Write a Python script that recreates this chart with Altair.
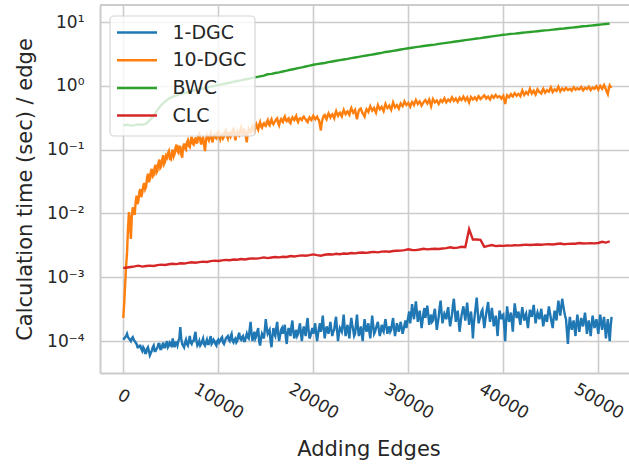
import altair as alt
import pandas as pd

SERIES = ["1-DGC", "10-DGC", "BWC", "CLC"]
COLORS = ["#1f77b4", "#ff7f0e", "#2ca02c", "#d62728"]

# sampling interval (edges) of the read-off points
STEP_DGC = 100
STEP_OTHER = 400

# 1-DGC, in units of 1e-4 s/edge (one row of ten = 1000 edges)
DGC1_E4 = [
    1.05, 1.1, 1.15, 1.2, 1.3, 1.15, 1.1, 1.05, 1.0, 1.1,
    1.15, 1.05, 1.0, 0.95, 0.9, 0.8, 0.8, 0.85, 0.85, 0.75,
    0.7, 0.8, 0.75, 0.65, 0.65, 0.75, 0.8, 0.7, 0.6, 0.65,
    0.7, 0.8, 0.85, 0.7, 0.7, 0.75, 0.8, 0.9, 0.9, 0.75,
    0.75, 0.85, 0.95, 0.8, 0.8, 0.9, 1.0, 0.8, 0.85, 0.95,
    0.9, 0.8, 1.1, 0.9, 0.8, 0.95, 0.95, 0.85, 1.0, 1.1,
    1.65, 1.1, 0.9, 0.85, 0.8, 0.95, 1.05, 0.9, 0.85, 1.0,
    1.2, 0.95, 0.9, 1.0, 1.0, 1.2, 1.4, 1.0, 0.85, 0.9,
    1.0, 0.85, 0.9, 1.0, 1.1, 0.9, 0.85, 0.95, 1.05, 0.9,
    0.9, 1.05, 1.2, 0.9, 0.95, 1.05, 1.0, 0.9, 0.85, 1.0,
    1.05, 0.95, 1.0, 1.1, 1.15, 0.95, 0.9, 1.0, 1.1, 1.15,
    1.2, 1.05, 1.0, 1.2, 1.3, 1.0, 0.95, 1.05, 1.1, 0.95,
    1.0, 1.2, 1.35, 1.1, 1.05, 1.15, 1.2, 1.0, 1.0, 1.15,
    1.3, 1.15, 1.1, 1.5, 2.0, 1.3, 1.0, 1.2, 1.4, 1.1,
    1.2, 1.4, 1.6, 1.0, 0.85, 1.1, 1.3, 1.2, 1.1, 1.5,
    2.2, 1.6, 1.3, 1.4, 1.5, 1.0, 0.8, 1.2, 1.6, 1.3,
    1.2, 1.6, 2.0, 1.3, 1.0, 1.2, 1.5, 1.6, 1.3, 1.5,
    1.8, 1.2, 0.9, 1.3, 1.6, 1.4, 1.2, 1.7, 2.1, 1.4,
    1.1, 1.3, 1.5, 1.2, 1.3, 1.6, 1.9, 1.3, 1.0, 1.4,
    1.7, 1.4, 1.2, 1.8, 2.3, 1.5, 1.1, 1.2, 1.4, 1.6,
    1.3, 1.5, 1.9, 1.3, 1.0, 1.3, 1.6, 1.9, 1.4, 1.8,
    2.5, 1.6, 1.1, 1.4, 1.7, 1.5, 1.3, 1.6, 2.0, 1.5,
    1.2, 1.4, 1.5, 2.0, 2.4, 1.5, 1.0, 1.3, 1.6, 1.5,
    1.4, 1.9, 2.6, 1.6, 1.2, 1.5, 1.8, 1.4, 1.1, 1.7,
    2.3, 1.8, 1.5, 1.2, 1.3, 1.9, 2.6, 1.6, 1.2, 1.4,
    1.7, 1.3, 1.0, 1.6, 2.2, 1.7, 1.4, 1.6, 1.9, 1.4,
    1.1, 1.7, 2.5, 1.8, 1.3, 1.4, 1.6, 1.8, 2.0, 1.5,
    1.2, 1.4, 1.8, 1.5, 1.4, 1.8, 2.2, 1.7, 1.3, 1.5,
    1.7, 1.4, 1.5, 1.9, 2.3, 1.6, 1.2, 1.5, 1.9, 1.6,
    1.4, 1.7, 2.0, 1.6, 1.3, 1.5, 1.8, 2.1, 1.6, 2.0,
    2.4, 2.9, 1.9, 2.6, 3.8, 2.8, 2.2, 3.1, 4.2, 2.9,
    2.0, 2.4, 3.0, 2.2, 1.6, 2.1, 2.8, 3.3, 2.3, 2.9,
    3.6, 2.6, 1.8, 2.2, 2.6, 2.0, 2.1, 2.7, 3.2, 2.2,
    1.5, 1.9, 2.4, 3.4, 4.3, 2.8, 1.9, 2.3, 2.7, 2.5,
    2.2, 2.9, 3.4, 2.3, 1.7, 2.1, 2.6, 3.7, 4.6, 3.0,
    2.0, 2.5, 3.0, 2.1, 1.4, 1.9, 2.5, 3.0, 3.5, 2.7,
    2.1, 3.0, 4.0, 2.6, 1.8, 2.4, 2.9, 2.0, 1.1, 1.9,
    2.6, 3.5, 4.8, 3.0, 1.9, 2.2, 2.4, 2.9, 3.1, 2.2,
    1.6, 2.1, 2.7, 3.3, 4.1, 2.7, 2.0, 2.6, 3.3, 2.4,
    1.7, 2.0, 2.5, 1.8, 1.2, 2.0, 3.0, 2.6, 2.2, 2.5,
    2.6, 1.7, 1.0, 2.1, 3.5, 2.6, 2.0, 2.3, 2.8, 2.0,
    1.4, 2.5, 3.9, 3.0, 2.3, 2.6, 2.9, 2.2, 1.8, 2.6,
    3.4, 2.6, 2.1, 2.5, 2.7, 2.0, 1.6, 2.3, 3.1, 2.7,
    2.4, 3.0, 3.7, 2.6, 1.9, 2.4, 2.8, 2.5, 2.2, 2.7,
    3.2, 2.3, 1.7, 2.1, 2.6, 2.2, 2.0, 2.7, 3.5, 2.8,
    2.3, 1.9, 1.6, 2.3, 3.0, 2.5, 2.1, 3.1, 4.3, 3.2,
    2.5, 3.4, 4.6, 3.7, 3.0, 2.5, 2.2, 1.4, 0.9, 1.6,
    2.4, 1.9, 1.5, 1.8, 2.1, 1.6, 1.2, 1.9, 2.6, 1.9,
    1.4, 1.8, 2.3, 1.9, 1.7, 2.2, 2.8, 2.0, 1.3, 1.7,
    2.1, 1.6, 1.2, 1.8, 2.5, 2.0, 1.6, 1.9, 2.2, 1.7,
    1.3, 1.9, 2.6, 2.0, 1.5, 1.9, 2.4, 1.7, 1.1, 1.6,
    2.2, 1.5, 1.0, 1.7, 2.4,
]

# 10-DGC, s/edge (one row of ten = 1000 edges)
DGC10 = [
    0.00023, 0.0004, 0.0008, 0.0015, 0.0025, 0.006, 0.0105, 0.007, 0.004, 0.009,
    0.0125, 0.011, 0.0095, 0.015, 0.019, 0.014, 0.016, 0.022, 0.024, 0.018,
    0.021, 0.027, 0.03, 0.024, 0.026, 0.036, 0.042, 0.031, 0.035, 0.045,
    0.05, 0.038, 0.04, 0.052, 0.058, 0.044, 0.047, 0.062, 0.07, 0.052,
    0.055, 0.07, 0.082, 0.06, 0.065, 0.08, 0.075, 0.088, 0.095, 0.072,
    0.07, 0.088, 0.1, 0.078, 0.085, 0.108, 0.12, 0.095, 0.09, 0.112,
    0.11, 0.085, 0.075, 0.11, 0.125, 0.105, 0.1, 0.13, 0.14, 0.115,
    0.11, 0.14, 0.16, 0.125, 0.12, 0.145, 0.15, 0.128, 0.13, 0.165,
    0.175, 0.14, 0.12, 0.148, 0.155, 0.12, 0.095, 0.14, 0.165, 0.15,
    0.14, 0.165, 0.18, 0.145, 0.13, 0.16, 0.17, 0.155, 0.15, 0.18,
    0.19, 0.16, 0.145, 0.17, 0.175, 0.15, 0.16, 0.19, 0.2, 0.165,
    0.15, 0.18, 0.185, 0.16, 0.17, 0.2, 0.21, 0.175, 0.14, 0.17,
    0.19, 0.17, 0.165, 0.2, 0.22, 0.18, 0.175, 0.205, 0.2, 0.16,
    0.13, 0.18, 0.21, 0.19, 0.185, 0.22, 0.235, 0.2, 0.19, 0.23,
    0.25, 0.22, 0.205, 0.245, 0.27, 0.23, 0.22, 0.25, 0.26, 0.24,
    0.235, 0.27, 0.29, 0.25, 0.24, 0.28, 0.3, 0.26, 0.25, 0.27,
    0.28, 0.3, 0.31, 0.26, 0.24, 0.28, 0.3, 0.28, 0.27, 0.31,
    0.33, 0.29, 0.28, 0.3, 0.31, 0.27, 0.26, 0.3, 0.32, 0.3,
    0.29, 0.32, 0.34, 0.29, 0.27, 0.3, 0.31, 0.3, 0.29, 0.32,
    0.33, 0.31, 0.3, 0.28, 0.27, 0.3, 0.32, 0.3, 0.29, 0.32,
    0.34, 0.31, 0.3, 0.32, 0.33, 0.3, 0.29, 0.24, 0.2, 0.27,
    0.31, 0.34, 0.35, 0.32, 0.3, 0.34, 0.37, 0.34, 0.32, 0.35,
    0.36, 0.33, 0.31, 0.36, 0.4, 0.36, 0.34, 0.37, 0.38, 0.35,
    0.33, 0.38, 0.42, 0.38, 0.36, 0.39, 0.4, 0.37, 0.35, 0.41,
    0.45, 0.41, 0.38, 0.4, 0.42, 0.35, 0.3, 0.36, 0.41, 0.43,
    0.44, 0.4, 0.37, 0.35, 0.33, 0.39, 0.43, 0.41, 0.39, 0.44,
    0.48, 0.44, 0.41, 0.43, 0.45, 0.41, 0.38, 0.44, 0.5, 0.46,
    0.43, 0.45, 0.47, 0.43, 0.4, 0.46, 0.52, 0.48, 0.45, 0.47,
    0.49, 0.45, 0.42, 0.48, 0.55, 0.5, 0.46, 0.48, 0.5, 0.47,
    0.44, 0.49, 0.53, 0.5, 0.48, 0.52, 0.57, 0.53, 0.5, 0.52,
    0.54, 0.5, 0.47, 0.52, 0.56, 0.53, 0.5, 0.55, 0.6, 0.56,
    0.52, 0.55, 0.57, 0.53, 0.49, 0.52, 0.55, 0.58, 0.6, 0.56,
    0.53, 0.57, 0.61, 0.54, 0.48, 0.55, 0.62, 0.58, 0.55, 0.57,
    0.59, 0.55, 0.52, 0.56, 0.6, 0.58, 0.56, 0.6, 0.64, 0.59,
    0.55, 0.58, 0.61, 0.59, 0.57, 0.62, 0.66, 0.62, 0.58, 0.6,
    0.63, 0.59, 0.56, 0.6, 0.65, 0.62, 0.6, 0.64, 0.68, 0.63,
    0.59, 0.63, 0.66, 0.6, 0.55, 0.61, 0.67, 0.64, 0.61, 0.63,
    0.66, 0.63, 0.6, 0.65, 0.69, 0.66, 0.62, 0.64, 0.66, 0.69,
    0.71, 0.67, 0.63, 0.66, 0.68, 0.64, 0.61, 0.66, 0.7, 0.67,
    0.65, 0.69, 0.72, 0.68, 0.66, 0.68, 0.69, 0.66, 0.63, 0.67,
    0.7, 0.6, 0.52, 0.63, 0.71, 0.68, 0.66, 0.7, 0.74, 0.7,
    0.68, 0.73, 0.77, 0.73, 0.7, 0.73, 0.75, 0.72, 0.69, 0.77,
    0.85, 0.78, 0.72, 0.76, 0.8, 0.77, 0.74, 0.82, 0.9, 0.82,
    0.76, 0.8, 0.84, 0.78, 0.73, 0.8, 0.88, 0.84, 0.8, 0.78,
    0.76, 0.84, 0.9, 0.83, 0.78, 0.82, 0.86, 0.83, 0.81, 0.88,
    0.95, 0.87, 0.8, 0.84, 0.88, 0.85, 0.83, 0.9, 0.97, 0.89,
    0.82, 0.87, 0.91, 0.88, 0.85, 0.89, 0.93, 0.89, 0.86, 0.88,
    0.9, 0.87, 0.84, 0.9, 0.95, 0.91, 0.87, 0.9, 0.92, 0.89,
    0.88, 0.92, 0.96, 0.9, 0.85, 0.89, 0.93, 0.91, 0.89, 0.93,
    0.97, 0.91, 0.86, 0.9, 0.94, 0.92, 0.9, 0.95, 0.99, 0.93,
    0.87, 0.94, 1.0, 0.95, 0.9, 0.97, 1.03, 0.95, 0.88, 0.8,
    0.74, 0.9, 1.02, 0.97, 0.93,
]

# BWC, s/edge
BWC = [
    0.24, 0.245, 0.238, 0.242, 0.25, 0.245, 0.255, 0.29, 0.34, 0.42,
    0.5, 0.57, 0.63, 0.67, 0.71, 0.74, 0.77, 0.8, 0.83, 0.86,
    0.88, 0.91, 0.94, 0.97, 1.0,
    1.035, 1.06, 1.09, 1.12, 1.16, 1.19, 1.22, 1.26, 1.29, 1.33,
    1.37, 1.41, 1.45, 1.52, 1.54, 1.59, 1.63, 1.68, 1.73, 1.79,
    1.84, 1.9, 1.95, 2.01, 2.07, 2.14, 2.19, 2.24, 2.28, 2.35,
    2.41, 2.47, 2.53, 2.59, 2.65, 2.72, 2.78, 2.85, 2.92, 2.99,
    3.06, 3.13, 3.21, 3.29, 3.4, 3.45, 3.53, 3.62, 3.71, 3.8,
    3.89, 3.96, 4.04, 4.12, 4.21, 4.29, 4.37, 4.43, 4.54, 4.63,
    4.72, 4.81, 4.91, 5.0, 5.1, 5.2, 5.3, 5.41, 5.51, 5.6,
    5.73, 5.84, 5.95, 6.07, 6.19, 6.31, 6.4, 6.53, 6.59, 6.68,
    6.78, 6.88, 6.98, 7.08, 7.19, 7.29, 7.4, 7.46, 7.62, 7.73,
    7.84, 7.94, 8.07, 8.18, 8.3, 8.43, 8.6, 8.67, 8.79, 8.93,
    9.06, 9.18, 9.33, 9.46,
]

# CLC, in units of 1e-3 s/edge
CLC_E3 = [
    1.40, 1.42, 1.45, 1.48, 1.52, 1.47, 1.5, 1.52, 1.5, 1.55,
    1.58, 1.56, 1.6, 1.63, 1.61, 1.66, 1.64, 1.68, 1.72, 1.69,
    1.73, 1.76, 1.74, 1.79, 1.82, 1.8, 1.84, 1.87, 1.85, 1.9,
    1.88, 1.93, 1.9, 1.95, 1.98, 1.96, 2.0, 2.05, 2.0, 2.04,
    2.08, 2.05, 2.1, 2.08, 2.15, 2.12, 2.16, 2.2, 2.17, 2.22,
    2.28, 2.22, 2.18, 2.25, 2.3, 2.27, 2.33, 2.3, 2.36, 2.34,
    2.4, 2.37, 2.42, 2.45, 2.41, 2.47, 2.5, 2.46, 2.52, 2.55,
    2.51, 2.58, 2.6, 2.62, 2.66, 2.75, 2.68, 2.66, 2.72, 2.8,
    2.74, 2.77, 2.8, 2.78, 2.83, 2.86, 2.95, 2.88, 2.92, 3.0,
    2.95, 5.7, 3.9, 3.9, 3.85, 3.0, 3.1, 3.2, 3.08, 3.12,
    3.1, 3.15, 3.13, 3.18, 3.16, 3.2, 3.25, 3.2, 3.23, 3.27,
    3.24, 3.28, 3.3, 3.27, 3.32, 3.38, 3.3, 3.34, 3.37, 3.35,
    3.45, 3.38, 3.4, 3.42, 3.4, 3.45, 3.6, 3.5, 3.65,
]

X_TICKS = [0, 10000, 20000, 30000, 40000, 50000]
Y_TICKS = [1e-4, 1e-3, 1e-2, 1e-1, 1, 10]

rows = []
for i, v in enumerate(DGC1_E4):
    rows.append({"edges": i * STEP_DGC, "time": v * 1e-4, "series": "1-DGC"})
for i, v in enumerate(DGC10):
    rows.append({"edges": i * STEP_DGC, "time": v, "series": "10-DGC"})
for i, v in enumerate(BWC):
    rows.append({"edges": i * STEP_OTHER, "time": v, "series": "BWC"})
for i, v in enumerate(CLC_E3):
    rows.append({"edges": i * STEP_OTHER, "time": v * 1e-3, "series": "CLC"})
df = pd.DataFrame(rows)

W, H = 529, 368
GRID = "#cccccc"
TEXT = "#262626"

y_label_expr = (
    "datum.value < 0.0005 ? '10⁻⁴' : datum.value < 0.005 ? '10⁻³' : "
    "datum.value < 0.05 ? '10⁻²' : datum.value < 0.5 ? '10⁻¹' : "
    "datum.value < 5 ? '10⁰' : '10¹'"
)

lines = alt.Chart(df).mark_line(strokeWidth=2.4).encode(
    x=alt.X(
        "edges:Q",
        scale=alt.Scale(domain=[-2450, 53230], nice=False, zero=False),
        axis=alt.Axis(
            values=X_TICKS,
            format="d",
            labelAngle=30,
            labelAlign="center",
            labelBaseline="middle",
            labelPadding={"condition": {"test": "datum.value == 0", "value": 23}, "value": 28},
            labelFlush=False,
            labelOverlap=False,
            labelFontSize=17,
            ticks=False,
            tickSize=0,
            grid=True,
            title="Adding Edges",
            titleX=268.5,
            titleY=82,
            titleAlign="center",
            titleBaseline="alphabetic",
        ),
    ),
    y=alt.Y(
        "time:Q",
        scale=alt.Scale(type="log", domain=[3.16e-5, 18.5], nice=False),
        axis=alt.Axis(
            values=Y_TICKS,
            labelExpr=y_label_expr,
            labelPadding=16,
            labelOverlap=False,
            labelFlush=False,
            labelFontSize=17,
            ticks=False,
            tickSize=0,
            grid=True,
            title="Calculation time (sec) / edge",
            titleAngle=270,
            titleX=-69,
            titleY=184,
            titleAlign="center",
            titleBaseline="alphabetic",
        ),
    ),
    color=alt.Color(
        "series:N",
        scale=alt.Scale(domain=SERIES, range=COLORS),
        legend=alt.Legend(
            title=None,
            orient="top-left",
            offset=10,
            padding=6,
            symbolType="M-2,0H2",
            symbolSize=400,
            symbolStrokeWidth=2.5,
            symbolOffset=9.5,
            labelOffset=24,
            rowPadding=5.7,
            labelFontSize=19,
            labelColor=TEXT,
            zindex=3,
        ),
    ),
)

# translucent legend frame (matplotlib framealpha 0.8), drawn above the lines
legend_frame = alt.Chart(pd.DataFrame({"k": [0]})).mark_rect(
    fill="white", fillOpacity=0.8, stroke="#d4d4d4", strokeWidth=1.2, cornerRadius=4
).encode(x=alt.value(10), x2=alt.value(155), y=alt.value(11), y2=alt.value(131))

top_spine = alt.Chart(pd.DataFrame({"k": [0]})).mark_rule(
    color=GRID, strokeWidth=2
).encode(x=alt.value(0), x2=alt.value(W), y=alt.value(0))

chart = (
    alt.layer(lines, legend_frame, top_spine)
    .properties(
        width=W,
        height=H,
        autosize=alt.AutoSizeParams(type="none"),
        padding={"left": 100, "top": 5, "right": 0, "bottom": 93},
        background="white",
    )
    .configure(font="DejaVu Sans")
    .configure_view(stroke="transparent")
    .configure_axis(
        gridColor=GRID,
        gridWidth=1.6,
        domainColor=GRID,
        domainWidth=2,
        labelColor=TEXT,
        labelFont="DejaVu Sans",
        titleFontSize=21,
        titleFontWeight="normal",
        titleColor=TEXT,
        titleFont="DejaVu Sans",
    )
    .configure_legend(labelFont="DejaVu Sans")
)

chart.save("out.html", embed_options={"renderer": "svg", "actions": False})
